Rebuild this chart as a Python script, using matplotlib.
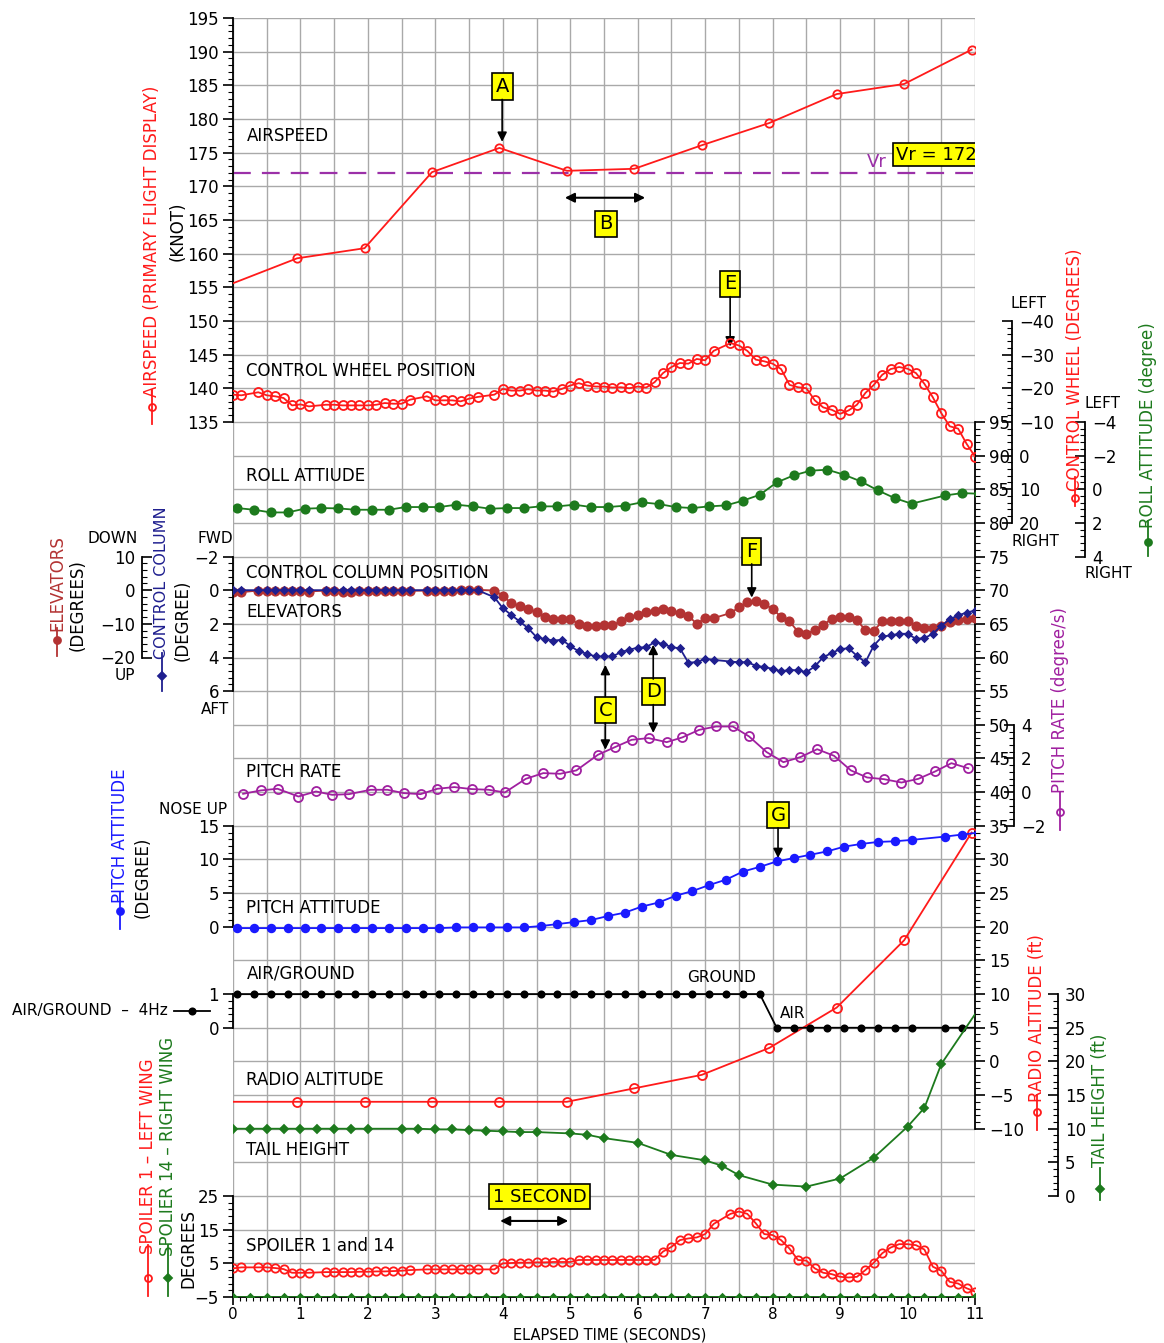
"""Takeoff flight-data strip chart: airspeed, control inputs, attitudes, heights."""

import matplotlib
matplotlib.use("Agg")
import matplotlib.pyplot as plt
import numpy as np
from matplotlib.lines import Line2D

nan = np.nan

# ---------------------------------------------------------------- data
AIRSPEED_T = [-0.05, 0.95, 1.95, 2.95, 3.95, 4.95, 5.95, 6.95, 7.95, 8.95, 9.95, 10.95]
AIRSPEED_KT = [155.4, 159.3, 160.8, 172.1, 175.7, 172.3, 172.6, 176.1, 179.4, 183.7, 185.2, 190.3]
VR_KT = 172

# 8 Hz parameters (t = 0 .. 11 s, step 0.125 s), nan = dropped sample
WHEEL_DEG = [
    -18.1, -17.9, nan, -18.8, -17.9, -17.6, -17.1, -14.9, -15.2, -14.6,
    nan, -15.1, -15.1, -14.9, -14.9, -14.9, -14.9, -15.1, -15.6, -15.4,
    -15.4, -16.6, nan, -17.6, -16.4, -16.4, -16.4, -16.1, -16.9, -17.4,
    nan, -18.1, -19.8, -19.3, -19.3, -19.7, -19.3, -19.3, -19.0, -19.8,
    -20.8, -21.5, -20.8, -20.5, -20.5, -20.2, -20.3, -20.0, -20.5, -20.2,
    -21.8, -24.5, -26.3, -27.5, -27.3, -28.7, -28.3, -31.1, nan, -33.4,
    -32.7, -31.1, -28.5, -28.0, -27.3, -25.7, -21.0, -20.3, -20.0, -16.4,
    -14.3, -13.6, -12.4, -13.4, -15.1, -18.6, -21.0, -24.0, -25.7, -26.3,
    -25.8, -24.5, -21.3, -17.3, -12.6, -8.7, -8.0, -3.5, 0.3,
]
ELEVATOR_DEG = [
    -0.4, -0.6, nan, -0.1, -0.1, -0.1, -0.1, -0.1, -0.2, -0.4,
    nan, -0.1, -0.1, -0.4, -0.4, -0.2, -0.1, -0.1, -0.1, -0.1,
    -0.1, -0.2, nan, -0.1, -0.1, -0.1, -0.1, 0.1, 0.1, 0.1,
    nan, -0.1, -1.6, -3.9, -4.6, -5.5, -6.5, -8.0, -8.5, -8.5,
    -8.5, -10.1, -10.6, -10.6, -10.3, -10.3, -9.3, -8.0, -7.3, -6.6,
    -6.1, -5.6, -6.3, -6.8, -7.6, -10.0, -8.3, -8.3, nan, -6.8,
    -5.1, -3.6, -3.2, -4.2, -5.5, -8.0, -9.3, -12.3, -13.0, -11.8,
    -10.3, -8.5, -8.1, -8.1, -9.0, -11.8, -12.0, -9.3, -9.1, -9.1,
    -9.1, -10.5, -11.3, -11.3, -10.6, -9.5, -8.8, -8.5, -8.3,
]
COLUMN_DEG = [
    0.0, 0.0, nan, 0.0, 0.0, 0.0, 0.0, 0.0, 0.0, 0.0,
    nan, 0.0, 0.0, 0.0, 0.0, 0.0, 0.0, 0.0, 0.0, 0.0,
    0.0, 0.0, nan, 0.0, 0.0, 0.0, 0.0, 0.0, 0.0, 0.0,
    nan, 0.42, 1.07, 1.47, 1.86, 2.26, 2.79, 2.91, 2.99, 2.95,
    3.31, 3.64, 3.78, 3.94, 3.94, 3.94, 3.68, 3.54, 3.41, 3.39,
    3.09, 3.19, 3.39, 3.45, 4.30, 4.28, 4.08, 4.14, nan, 4.24,
    4.28, 4.28, 4.49, 4.57, 4.67, 4.83, 4.73, 4.77, 4.87, 4.53,
    3.98, 3.74, 3.50, 3.45, 3.90, 4.28, 3.29, 2.75, 2.69, 2.59,
    2.59, 2.89, 2.85, 2.59, 2.12, 1.72, 1.50, 1.33, 1.21,
]
SPOILER1_DEG = [
    3.5, 3.8, nan, 3.8, 3.8, 3.6, 3.3, 2.2, 2.2, 2.2,
    nan, 2.4, 2.4, 2.4, 2.4, 2.5, 2.5, 2.6, 2.6, 2.7,
    2.8, 3.0, nan, 3.2, 3.2, 3.2, 3.2, 3.2, 3.2, 3.2,
    nan, 3.2, 5.0, 5.1, 5.2, 5.2, 5.3, 5.3, 5.4, 5.4,
    5.4, 6.0, 6.0, 6.0, 6.0, 6.0, 6.0, 6.0, 6.0, 6.0,
    6.0, 8.5, 9.9, 11.9, 12.4, 12.7, 13.7, 16.7, nan, 19.7,
    20.4, 19.7, 16.9, 13.7, 13.4, 11.9, 9.4, 6.0, 5.8, 3.5,
    2.2, 1.8, 1.0, 0.8, 1.0, 3.0, 5.2, 8.0, 9.7, 10.7,
    10.7, 10.4, 9.1, 4.0, 2.8, -0.5, -1.0, -2.4, -3.4,
]

# 4 Hz parameters (t = 0.06 .. 11.06 s, step 0.25 s)
ROLL_DEG = [
    1.12, 1.22, 1.38, 1.38, 1.16, 1.12, 1.14, 1.22, 1.22, 1.22,
    1.06, 1.06, 1.06, 0.92, 1.02, 1.16, 1.12, 1.12, 1.02, 1.02,
    0.92, 1.06, 1.06, 0.98, 0.78, 0.88, 1.06, 1.12, 1.02, 0.96,
    0.68, 0.33, -0.40, -0.82, -1.10, -1.16, -0.86, -0.46, 0.07, 0.53,
    0.86, nan, 0.37, 0.23, 0.27,
]
PITCH_DEG = [
    -0.2, -0.2, -0.2, -0.2, -0.2, -0.2, -0.2, -0.2, -0.2, -0.2,
    -0.2, -0.2, -0.2, -0.1, -0.1, -0.1, -0.1, -0.1, 0.1, 0.4,
    0.7, 1.0, 1.6, 2.1, 3.0, 3.6, 4.6, 5.3, 6.2, 7.0,
    8.2, 8.9, 9.7, 10.2, 10.7, 11.2, 11.9, 12.3, 12.6, 12.7,
    12.9, nan, 13.4, 13.7, 14.0,
]
AIR_GROUND = [
    1, 1, 1, 1, 1, 1, 1, 1, 1, 1,
    1, 1, 1, 1, 1, 1, 1, 1, 1, 1,
    1, 1, 1, 1, 1, 1, 1, 1, 1, 1,
    1, 1, 0, 0, 0, 0, 0, 0, 0, 0,
    0, nan, 0, 0, 0,
]

PITCH_RATE_T = [0.15, 0.41, 0.66, 0.97, 1.23, 1.47, 1.72, 2.04, 2.29, 2.53, 2.78, 3.03,
                3.28, 3.54, 3.79, 4.03, 4.34, 4.60, 4.85, 5.09, 5.41, 5.66, 5.91, 6.16,
                6.43, 6.66, 6.91, 7.16, 7.41, 7.65, 7.91, 8.16, 8.41, 8.66, 8.91, 9.16,
                9.40, 9.65, 9.91, 10.16, 10.41, 10.65, 10.90]
PITCH_RATE_DPS = [-0.10, 0.10, 0.20, -0.26, 0.04, -0.16, -0.12, 0.14, 0.14, -0.06, -0.12, 0.20,
                  0.30, 0.18, 0.14, -0.02, 0.79, 1.13, 1.09, 1.29, 2.22, 2.67, 3.11, 3.21,
                  2.97, 3.25, 3.70, 3.90, 3.90, 3.31, 2.38, 1.78, 2.08, 2.55, 2.16, 1.29,
                  0.87, 0.77, 0.57, 0.79, 1.23, 1.72, 1.42]

RADIO_ALT_T = [-0.05, 0.95, 1.95, 2.95, 3.95, 4.95, 5.95, 6.95, 7.95, 8.95, 9.95, 10.95]
RADIO_ALT_FT = [-6, -6, -6, -6, -6, -6, -4, -2, 2, 8, 18, 34]

TAIL_T = [0, 0.25, 0.5, 0.75, 1.0, 1.25, 1.5, 1.75, 2.0, 2.5, 2.75, 3.0, 3.25, 3.5, 3.75,
          4.0, 4.25, 4.5, 5.0, 5.25, 5.5, 6.0, 6.5, 7.0, 7.25, 7.5, 8.0, 8.5, 9.0, 9.5,
          10.0, 10.25, 10.5, 11.0]
TAIL_FT = [10.0, 10.0, 10.0, 10.0, 10.0, 10.0, 10.0, 10.0, 10.0, 10.0, 10.0, 9.9, 9.9, 9.8, 9.7,
           9.6, 9.5, 9.5, 9.3, 9.1, 8.6, 7.9, 6.1, 5.3, 4.5, 3.1, 1.7, 1.4, 2.6, 5.7,
           10.3, 13.1, 19.6, 27.0]

SPOILER14_DEG = [-5.0] * 45

# ---------------------------------------------------------------- style
W, H = 1164, 1343
RED = "#ff1a1a"
GREEN = "#1d7a1d"
ELEV = "#b33333"
NAVY = "#1f1f8f"
PURPLE = "#a020a0"
BLUE = "#1a1aff"
GRID = "#a9a9a9"
YELLOW = "#ffff00"

plt.rcParams["font.family"] = ["DejaVu Sans"]

t8 = np.arange(89) * 0.125
t4 = 0.06 + np.arange(45) * 0.25
t4s = np.arange(45) * 0.25


def fx(x):
    return x / W


def fy(y):
    return 1 - y / H


def plot_series(axis, t, v, color, marker, filled, ms, lw=1.3, mew=1.3, skip_first=False, skip_last=False, z=3):
    t = np.asarray(t, float)
    v = np.asarray(v, float)
    ok = ~np.isnan(v)
    t, v = t[ok], v[ok]
    idx = list(range(len(t)))
    if skip_first:
        idx = idx[1:]
    if skip_last:
        idx = idx[:-1]
    axis.plot(t, v, color=color, lw=lw, marker=marker, ms=ms,
              mfc=color if filled else "none", mec=color, mew=mew,
              markevery=idx, zorder=z)


fig = plt.figure(figsize=(W / 100, H / 100), dpi=100)
ax = fig.add_axes([233 / W, 1 - 1297 / H, 742 / W, 1279 / H])
ax.set_xlim(0, 11)
ax.set_ylim(-35, 155)
for gx in np.arange(0, 11.01, 0.5):
    ax.axvline(gx, color=GRID, lw=1.0, zorder=0)
for gy in np.arange(-35, 155.1, 5):
    ax.axhline(gy, color=GRID, lw=1.0, zorder=0)
for side in ("top", "left", "right"):
    ax.spines[side].set_visible(False)
ax.spines["bottom"].set_linewidth(1.3)
ax.set_yticks([])
ax.set_xticks(np.arange(0, 12))
ax.set_xticks(np.arange(0, 11.01, 0.1), minor=True)
ax.tick_params(axis="x", which="major", length=6, width=1.2, labelsize=11, pad=1)
ax.tick_params(axis="x", which="minor", length=3, width=0.8)
fig.text(fx(610), fy(1335), "ELAPSED TIME (SECONDS)", fontsize=10.5, ha="center", va="center")


def scale(ylim, side, pos, lo, hi, major, minor, direction="out", pad=3):
    tw = ax.twinx()
    tw.set_ylim(*ylim)
    for s in tw.spines.values():
        s.set_visible(False)
    sp = tw.spines[side]
    sp.set_visible(True)
    sp.set_position(("axes", pos))
    sp.set_bounds(lo, hi)
    sp.set_linewidth(1.3)
    if side == "left":
        tw.yaxis.tick_left()
    else:
        tw.yaxis.tick_right()
    tw.set_yticks(np.arange(lo, hi + 1e-9, major))
    tw.set_yticks(np.arange(lo, hi + 1e-9, minor), minor=True)
    tw.tick_params(axis="y", which="major", direction=direction, length=7, width=1.2,
                   labelsize=12, pad=pad)
    tw.tick_params(axis="y", which="minor", direction=direction, length=3.5, width=0.8)
    return tw


ax_as = scale((5, 195), "left", 0, 135, 195, 5, 1)
ax_ra = scale((-35, 155), "right", 1.0, -10, 95, 5, 1)
ax_wh = scale((250, -130), "right", (1012 - 233) / 742, -40, 20, 10, 2, "in", 5)
ax_ro = scale((48, -28), "right", (1085 - 233) / 742, -4, 4, 2, 0.4, "in", 5)
ax_el = scale((-210, 170), "left", (142 - 233) / 742, -20, 10, 10, 2, "in", 5)
ax_cc = scale((42, -34), "left", 0, -2, 6, 2, 0.4)
ax_pr = scale((-30, 46), "right", (1014 - 233) / 742, -2, 4, 2, 0.4, "in", 5)
ax_pa = scale((-55, 135), "left", 0, 0, 15, 5, 1)
ax_ag = scale((-8, 30), "left", 0, 0, 1, 1, 0.2)
ax_th = scale((-15, 175), "right", (1058 - 233) / 742, 0, 30, 5, 1, "in", 5)
ax_sp = scale((-5, 375), "left", 0, -5, 25, 10, 2)

# ---------------------------------------------------------------- series
ax_as.axhline(VR_KT, color="#9b30a8", lw=1.6, dashes=(8, 5), zorder=2)
plot_series(ax_as, AIRSPEED_T, AIRSPEED_KT, RED, "o", False, 6, skip_first=True)
plot_series(ax_wh, t8, WHEEL_DEG, RED, "o", False, 6.5)
plot_series(ax_ro, t4, ROLL_DEG, GREEN, "o", True, 6)
plot_series(ax_cc, t8, COLUMN_DEG, NAVY, "D", True, 3.5, z=3)
plot_series(ax_el, t8, ELEVATOR_DEG, ELEV, "o", True, 6, z=4)
plot_series(ax_pr, PITCH_RATE_T, PITCH_RATE_DPS, PURPLE, "o", False, 6.5)
plot_series(ax_pa, t4, PITCH_DEG, BLUE, "o", True, 5.5)
plot_series(ax_ag, t4, AIR_GROUND, "black", "o", True, 4.5)
plot_series(ax_ra, RADIO_ALT_T, RADIO_ALT_FT, RED, "o", False, 6.5, skip_first=True)
plot_series(ax_th, TAIL_T, TAIL_FT, GREEN, "D", True, 4.5, skip_last=True)
plot_series(ax_sp, t8, SPOILER1_DEG, RED, "o", False, 6)
plot_series(ax_sp, t4s, SPOILER14_DEG, GREEN, "D", True, 3.5, z=4)

# ---------------------------------------------------------------- in-plot labels
for txt, u in [("AIRSPEED", 137.4), ("CONTROL WHEEL POSITION", 102.6), ("ROLL ATTIUDE", 87.0),
               ("CONTROL COLUMN POSITION", 72.6), ("ELEVATORS", 66.8), ("PITCH RATE", 43.0),
               ("PITCH ATTITUDE", 22.8), ("AIR/GROUND", 13.0), ("RADIO ALTITUDE", -2.8),
               ("TAIL HEIGHT", -13.2), ("SPOILER 1 and 14", -27.4)]:
    ax.text(0.2, u, txt, fontsize=12, ha="left", va="center", zorder=6)
ax.text(7.25, 12.5, "GROUND", fontsize=11, ha="center", va="center", zorder=6)
ax.text(8.3, 7.1, "AIR", fontsize=11, ha="center", va="center", zorder=6)
ax.text(9.55, 133.6, "Vr", fontsize=13, color="#9b30a8", ha="center", va="center", zorder=6)
ax.text(9.83, 134.7, "Vr = 172", fontsize=13, ha="left", va="center", zorder=7, clip_on=True,
        bbox=dict(boxstyle="square,pad=0.15", fc=YELLOW, ec="black", lw=1.2))

BOX = dict(boxstyle="square,pad=0.2", fc=YELLOW, ec="black", lw=1.2)
ARROW = dict(arrowstyle="-|>", color="black", lw=1.2, mutation_scale=14, shrinkA=0, shrinkB=0)
DOUBLE = dict(arrowstyle="<|-|>", color="black", lw=1.5, mutation_scale=14, shrinkA=0, shrinkB=0)

callouts = [
    ("A", 3.99, 144.8, [(142.9, 136.6)]),
    ("B", 5.53, 124.4, []),
    ("E", 7.37, 115.5, [(113.6, 106.2)]),
    ("F", 7.69, 75.8, [(73.9, 68.9)]),
    ("C", 5.52, 52.2, [(54.2, 58.9), (50.3, 46.3)]),
    ("D", 6.23, 54.9, [(56.8, 61.9), (53.0, 48.8)]),
    ("G", 8.08, 36.6, [(34.7, 30.2)]),
]
for lab, t, u, arrows in callouts:
    ax.text(t, u, lab, fontsize=14, ha="center", va="center", bbox=BOX, zorder=8)
    for u0, u1 in arrows:
        ax.annotate("", xy=(t, u1), xytext=(t, u0), arrowprops=ARROW, zorder=8)
ax.annotate("", xy=(4.92, 128.3), xytext=(6.11, 128.3), arrowprops=DOUBLE, zorder=8)
ax.text(4.55, -20.1, "1 SECOND", fontsize=13, ha="center", va="center", bbox=BOX, zorder=8)
ax.annotate("", xy=(3.96, -23.7), xytext=(4.97, -23.7), arrowprops=DOUBLE, zorder=8)

# ---------------------------------------------------------------- outside labels


def glyph(x, y0, y1, ym, color, marker, filled, ms=6, horizontal=False):
    if horizontal:
        xs, ys, mx, my = [fx(y0), fx(y1)], [fy(x), fy(x)], fx(ym), fy(x)
    else:
        xs, ys, mx, my = [fx(x), fx(x)], [fy(y0), fy(y1)], fx(x), fy(ym)
    fig.add_artist(Line2D(xs, ys, color=color, lw=1.3, transform=fig.transFigure))
    fig.add_artist(Line2D([mx], [my], marker=marker, ms=ms, ls="none",
                          mfc=color if filled else "none", mec=color, mew=1.3,
                          transform=fig.transFigure))


def vtext(x, y, s, color="black", size=12):
    fig.text(fx(x), fy(y), s, rotation=90, ha="center", va="center", color=color,
             fontsize=size)


def htext(x, y, s, ha="center", size=11):
    fig.text(fx(x), fy(y), s, ha=ha, va="center", fontsize=size)


vtext(152, 241, "AIRSPEED (PRIMARY FLIGHT DISPLAY)", RED)
glyph(152, 390, 424, 407, RED, "o", False, 5)
vtext(178, 231, "(KNOT)")

vtext(57, 583, "ELEVATORS", ELEV)
glyph(57, 628, 656, 640, ELEV, "o", True, 5)
vtext(78, 605, "(DEGREES)")
htext(113, 538, "DOWN")
htext(125, 676, "UP")
vtext(162, 583, "CONTROL COLUMN", NAVY, 11.5)
glyph(162, 653, 691, 676, NAVY, "D", True, 4)
vtext(183, 620, "(DEGREE)")
htext(215, 538, "FWD")
htext(215, 709, "AFT")

vtext(120, 836, "PITCH ATTITUDE", BLUE)
glyph(120, 893, 929, 911, BLUE, "o", True, 5)
vtext(143, 877, "(DEGREE)")
htext(193, 809, "NOSE UP")

htext(12, 1011, "AIR/GROUND  \u2013  4Hz", ha="left")
glyph(1011, 174, 210, 192, "black", "o", True, 4.5, horizontal=True)

vtext(148, 1156, "SPOILER 1 \u2013 LEFT WING", RED)
glyph(148, 1245, 1296, 1278, RED, "o", False, 5)
vtext(168, 1146, "SPOLIER 14 \u2013 RIGHT WING", GREEN)
glyph(168, 1245, 1296, 1278, GREEN, "D", True, 4)
vtext(188, 1249, "DEGREES")

htext(1028, 303, "LEFT")
htext(1035, 542, "RIGHT")
vtext(1075, 370, "CONTROL WHEEL (DEGREES)", RED)
glyph(1075, 477, 506, 498, RED, "o", False, 5)
htext(1103, 403, "LEFT")
htext(1108, 574, "RIGHT")
vtext(1148, 425, "ROLL ATTITUDE (degree)", GREEN)
glyph(1148, 521, 556, 542, GREEN, "o", True, 5)
vtext(1060, 700, "PITCH RATE (degree/s)", PURPLE)
glyph(1060, 792, 830, 812, PURPLE, "o", False, 5)
vtext(1037, 1018, "RADIO ALTITUDE (ft)", RED)
glyph(1037, 1095, 1130, 1112, RED, "o", False, 5)
vtext(1100, 1100, "TAIL HEIGHT (ft)", GREEN)
glyph(1100, 1168, 1200, 1189, GREEN, "D", True, 4)

fig.savefig("out.png", dpi=100)
